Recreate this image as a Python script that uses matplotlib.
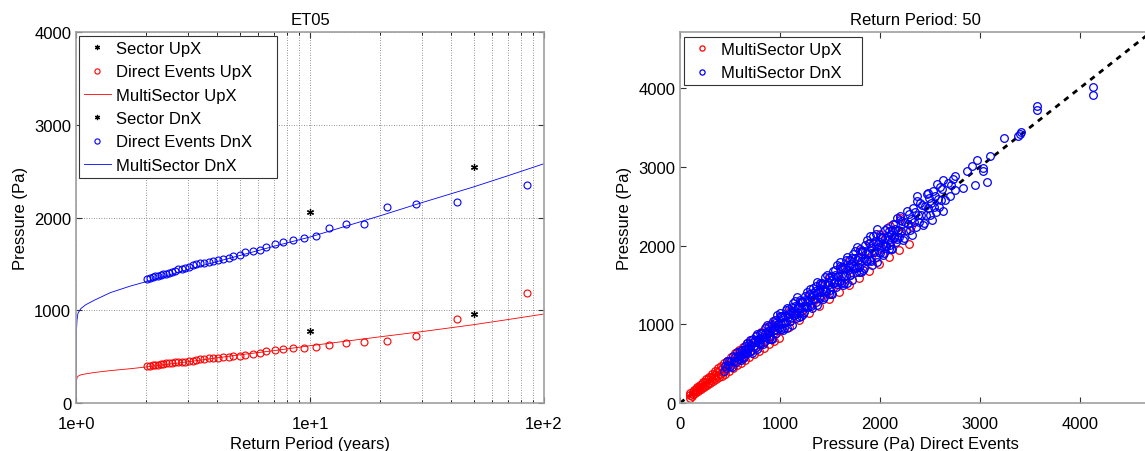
import matplotlib
matplotlib.use("Agg")
import matplotlib.pyplot as plt
from matplotlib.ticker import FixedLocator, FixedFormatter

plt.rcParams['font.family'] = ['Liberation Sans', 'DejaVu Sans']
plt.rcParams['font.size'] = 12

# ---- left panel: ET05 return period curves ----
sector_rp = [10, 50]
sector_up = [780, 960]
sector_dn = [2065, 2550]

event_rp = [85, 42.5, 28.3, 21.3, 17.0, 14.2, 12.1, 10.6, 9.4, 8.5, 7.7, 7.1, 6.5, 6.1,
            5.7, 5.3, 5.0, 4.7, 4.5, 4.25, 4.05, 3.86, 3.7, 3.54, 3.4, 3.27, 3.15, 3.04,
            2.93, 2.83, 2.74, 2.66, 2.58, 2.5, 2.43, 2.36, 2.3, 2.24, 2.18, 2.13, 2.07, 2.02]
event_up = [1185, 905, 725, 670, 655, 650, 625, 600, 595, 590, 580, 570, 560, 540,
            530, 520, 510, 505, 500, 495, 490, 488, 485, 478, 470, 462, 455, 450,
            445, 442, 440, 438, 435, 432, 430, 425, 420, 415, 410, 408, 405, 400]
event_dn = [2350, 2165, 2145, 2110, 1930, 1930, 1885, 1800, 1780, 1760, 1735, 1715, 1680, 1655,
            1640, 1625, 1600, 1585, 1565, 1555, 1540, 1530, 1520, 1515, 1510, 1500, 1490, 1470,
            1460, 1450, 1440, 1420, 1410, 1400, 1395, 1390, 1385, 1375, 1365, 1355, 1345, 1340]

fit_rp = [1.0, 1.003, 1.01, 1.02, 1.05, 1.1, 1.2, 1.4, 1.7, 2.0, 3.0, 5.0, 7.0, 10, 20, 30, 50, 70, 100]
fit_up = [0, 230, 275, 290, 305, 315, 330, 350, 370, 390, 445, 520, 565, 618, 715, 770, 845, 900, 960]
fit_dn = [0, 750, 900, 970, 1020, 1060, 1110, 1190, 1260, 1310, 1440, 1590, 1690, 1790, 2020, 2160, 2330, 2450, 2580]

# ---- right panel: (direct events, multisector) pressure pairs at 50 yr ----
up_pairs = [
    (96, 70), (104, 100), (98, 130),
    (124, 95), (134, 120), (127, 145), (136, 165),
    (154, 125), (164, 150), (157, 175), (166, 200),
    (184, 150), (194, 180), (187, 205), (196, 235),
    (214, 175), (224, 205), (217, 240), (226, 270),
    (244, 200), (254, 235), (247, 265), (256, 300),
    (274, 225), (284, 260), (277, 300), (286, 335),
    (304, 250), (314, 290), (307, 330), (316, 370),
    (334, 275), (344, 320), (337, 360), (346, 405),
    (364, 300), (374, 345), (367, 395), (376, 440),
    (394, 325), (404, 375), (397, 420), (406, 470),
    (424, 350), (434, 400), (427, 455), (436, 505),
    (454, 375), (464, 430), (457, 485), (466, 540),
    (494, 410), (504, 470), (497, 525), (506, 585),
    (534, 445), (544, 505), (537, 570), (546, 630),
    (574, 480), (584, 545), (577, 605), (586, 670),
    (614, 515), (624, 580), (617, 650), (626, 715),
    (654, 550), (664, 620), (657, 690), (666, 760),
    (694, 580), (704, 655), (697, 725), (706, 800),
    (744, 625), (754, 700), (747, 780), (756, 855),
    (794, 665), (804, 745), (797, 825), (806, 905),
    (844, 705), (854, 790), (847, 875), (856, 960),
    (894, 750), (904, 835), (897, 925), (906, 1010),
    (944, 790), (954, 880), (947, 970), (956, 1060),
    (994, 830), (1004, 925), (997, 1015), (1006, 1110),
    (1094, 970), (1106, 1080), (1100, 1175),
    (1194, 1060), (1206, 1175), (1200, 1285),
    (1294, 1145), (1306, 1270), (1300, 1390),
    (1394, 1235), (1406, 1370), (1400, 1495),
    (1494, 1320), (1506, 1470), (1500, 1600),
    (1594, 1410), (1606, 1565), (1600, 1710),
    (1694, 1500), (1706, 1665), (1700, 1815),
    (1794, 1585), (1806, 1760), (1800, 1925),
    (1894, 1675), (1906, 1860), (1900, 2030),
    (1994, 1760), (2006, 1960), (2000, 2140),
    (2094, 1850), (2106, 2060), (2100, 2245),
    (2194, 1940), (2206, 2155), (2200, 2350),
    (2294, 2025), (2306, 2250),
]
dn_pairs = [
    (440, 403), (450, 473), (460, 447), (470, 533), (480, 486), (490, 536), (500, 472), (510, 530),
    (520, 463), (530, 594), (540, 532), (550, 586), (560, 521), (570, 654), (580, 595), (590, 565),
    (600, 664), (610, 609), (620, 669), (630, 570), (640, 587), (650, 684), (660, 641), (670, 759),
    (680, 688), (690, 754), (700, 661), (710, 738), (720, 641), (730, 818), (740, 729), (750, 800),
    (760, 708), (770, 883), (780, 800), (790, 757), (800, 885), (810, 808), (820, 885), (830, 750),
    (840, 770), (850, 894), (860, 835), (870, 986), (880, 891), (890, 973), (900, 850), (910, 945),
    (920, 819), (930, 1042), (940, 926), (950, 1013), (960, 894), (970, 1113), (980, 1005), (990, 948),
    (1000, 1106), (1010, 1008), (1020, 1101), (1030, 931), (1040, 954), (1050, 1105), (1060, 1029),
    (1070, 1212), (1080, 1093), (1090, 1191), (1100, 1038), (1110, 1153), (1120, 997), (1130, 1266),
    (1140, 1123), (1150, 1226), (1160, 1080), (1170, 1342), (1180, 1210), (1190, 1140),
    (1200, 1303), (1210, 1208), (1220, 1298), (1230, 1133), (1240, 1156), (1250, 1303), (1260, 1230),
    (1270, 1407), (1280, 1292), (1290, 1387), (1300, 1240), (1310, 1351), (1320, 1201), (1330, 1459),
    (1340, 1323), (1350, 1422), (1360, 1282), (1370, 1533), (1380, 1408), (1390, 1341), (1400, 1520),
    (1410, 1407), (1420, 1511), (1430, 1317), (1440, 1342), (1450, 1511), (1460, 1425), (1470, 1629),
    (1480, 1493), (1490, 1602), (1500, 1431), (1510, 1557), (1520, 1383), (1530, 1678), (1540, 1520),
    (1550, 1632), (1560, 1471), (1570, 1757), (1580, 1612), (1590, 1534), (1600, 1738), (1610, 1607),
    (1620, 1724), (1630, 1501), (1640, 1528), (1650, 1719), (1660, 1620), (1670, 1850), (1680, 1695),
    (1690, 1817), (1700, 1622), (1710, 1763), (1720, 1565), (1730, 1898), (1740, 1717), (1750, 1843),
    (1760, 1660), (1770, 1981), (1780, 1816), (1790, 1727), (1800, 1955), (1810, 1806), (1820, 1936),
    (1830, 1685), (1840, 1715), (1850, 1928), (1860, 1815), (1870, 2072), (1880, 1897), (1890, 2032),
    (1900, 1813), (1910, 1969), (1920, 1747), (1930, 2117), (1940, 1915), (1950, 2053), (1960, 1848),
    (1970, 2204), (1980, 2020), (1990, 1920),
    (2000, 2112), (2010, 1986), (2020, 2099), (2030, 1885), (2040, 1911), (2050, 2095), (2060, 2000),
    (2070, 2221), (2080, 2073), (2090, 2189), (2100, 2003), (2110, 2138), (2120, 1950), (2130, 2267),
    (2140, 2097), (2150, 2215), (2160, 2042), (2170, 2347), (2180, 2191), (2190, 2108), (2200, 2323),
    (2210, 2183), (2220, 2307), (2230, 2071), (2240, 2099), (2250, 2300), (2260, 2194), (2270, 2436),
    (2280, 2272), (2290, 2399), (2300, 2194), (2310, 2341), (2320, 2134), (2330, 2480), (2340, 2293),
    (2350, 2421), (2360, 2231), (2370, 2563), (2380, 2392), (2390, 2300), (2400, 2534), (2410, 2381),
    (2420, 2514), (2430, 2256), (2440, 2286), (2450, 2504), (2460, 2389), (2470, 2650), (2480, 2471),
    (2490, 2608), (2500, 2385), (2510, 2544), (2520, 2318), (2530, 2693), (2540, 2489), (2550, 2627),
    (2560, 2420), (2570, 2779), (2580, 2593), (2590, 2493), (2600, 2746), (2610, 2579), (2620, 2722),
    (2630, 2442), (2650, 2580), (2680, 2790), (2700, 2630), (2730, 2850), (2750, 2700),
    (605, 547), (620, 669), (635, 634), (650, 719), (665, 637), (680, 697), (695, 797), (710, 661),
    (725, 773), (740, 729), (755, 846), (770, 685), (785, 816), (800, 755), (815, 891), (830, 840),
    (845, 957), (860, 835), (875, 921), (890, 816), (905, 818), (920, 993), (935, 933), (950, 1051),
    (965, 924), (980, 1005), (995, 1141), (1010, 940), (1025, 1093), (1040, 1024), (1055, 1182),
    (1070, 952), (1085, 1127), (1100, 1038), (1115, 1219), (1130, 1144), (1145, 1297), (1160, 1126),
    (1175, 1236), (1190, 1091), (1205, 1110), (1220, 1298), (1235, 1233), (1250, 1358), (1265, 1221),
    (1280, 1306), (1295, 1449), (1310, 1235), (1325, 1395), (1340, 1323), (1355, 1486), (1370, 1247),
    (1385, 1428), (1400, 1336), (1415, 1521), (1430, 1443), (1445, 1601), (1460, 1425), (1475, 1537),
    (1490, 1389), (1505, 1386), (1520, 1617), (1535, 1532), (1550, 1683), (1565, 1510), (1580, 1612),
    (1595, 1785), (1610, 1518), (1625, 1711), (1640, 1619), (1655, 1816), (1670, 1520), (1685, 1737),
    (1700, 1622), (1715, 1844), (1730, 1746), (1745, 1933), (1760, 1718), (1775, 1850), (1790, 1668),
    (1805, 1662), (1820, 1936), (1835, 1831), (1850, 2009), (1865, 1800), (1880, 1918), (1895, 2121),
    (1910, 1801), (1925, 2027), (1940, 1915), (1955, 2145), (1970, 1793), (1985, 2047), (2000, 1908),
    (2015, 2111), (2030, 2023), (2045, 2194), (2060, 2000), (2075, 2121), (2090, 1958), (2105, 1954),
    (2120, 2203), (2135, 2109), (2150, 2270), (2165, 2084), (2180, 2191), (2195, 2374),
    (2365, 2630), (2475, 2670), (2630, 2836), (2714, 2772), (2750, 2878),
    (2830, 2730), (2868, 2950), (2915, 3005), (2952, 2772), (2970, 3090),
    (3033, 2990), (3033, 2950), (3073, 2810), (3099, 3140), (3238, 3360),
    (3380, 3395), (3395, 3415), (3410, 3437), (3568, 3725), (3568, 3767),
    (4133, 3915), (4133, 4009),
]
up_direct = [p[0] for p in up_pairs]
up_multi = [p[1] for p in up_pairs]
dn_direct = [p[0] for p in dn_pairs]
dn_multi = [p[1] for p in dn_pairs]

fig = plt.figure(figsize=(11.45, 4.52), dpi=100)
ax1 = fig.add_axes([0.0664, 0.106, 0.4087, 0.821])
ax2 = fig.add_axes([0.5939, 0.106, 0.4114, 0.821])

leg_kw = dict(loc='upper left', mode='expand', fancybox=False, framealpha=1, edgecolor='#333333',
              handlelength=1.6, handletextpad=0.3, borderpad=0.3, labelspacing=0.5,
              borderaxespad=0, fontsize=12)

ax1.plot(sector_rp, sector_up, ls='none', marker=(6, 2, 0), color='black', ms=5, mew=0.9, label='Sector UpX')
ax1.plot(event_rp, event_up, 'o', mfc='none', mec='red', ms=5, mew=0.8, label='Direct Events UpX')
ax1.plot(fit_rp, fit_up, '-', color='red', lw=0.6, label='MultiSector UpX')
ax1.plot(sector_rp, sector_dn, ls='none', marker=(6, 2, 0), color='black', ms=5, mew=0.9, label='Sector DnX')
ax1.plot(event_rp, event_dn, 'o', mfc='none', mec='blue', ms=5, mew=0.8, label='Direct Events DnX')
ax1.plot(fit_rp, fit_dn, '-', color='blue', lw=0.6, label='MultiSector DnX')
ax1.set_xscale('log')
ax1.set_xlim(1, 100)
ax1.set_ylim(0, 4000)
ax1.xaxis.set_major_locator(FixedLocator([1, 10, 100]))
ax1.xaxis.set_major_formatter(FixedFormatter(['1e+0', '1e+1', '1e+2']))
ax1.set_yticks([0, 1000, 2000, 3000, 4000])
ax1.grid(True, which='both', axis='x', ls=(0, (1, 2)), color='#707070', lw=0.6)
ax1.grid(True, which='major', axis='y', ls=(0, (1, 2)), color='#707070', lw=0.6)
ax1.set_title('ET05', fontsize=12)
ax1.set_xlabel('Return Period (years)')
ax1.set_ylabel('Pressure (Pa)')
leg1 = ax1.legend(bbox_to_anchor=(0.0064, 0.0, 0.423, 0.989), markerscale=0.75, **leg_kw)
leg1.get_frame().set_linewidth(0.8)

ax2.plot([0, 4700], [0, 4700], '--', color='black', lw=2, dashes=(2, 2), zorder=1)
ax2.plot(up_direct, up_multi, 'o', mfc='none', mec='red', ms=5.5, mew=0.9, label='MultiSector UpX', zorder=2)
ax2.plot(dn_direct, dn_multi, 'o', mfc='none', mec='blue', ms=5.5, mew=0.9, label='MultiSector DnX', zorder=2)
ax2.set_xlim(0, 4710)
ax2.set_ylim(0, 4710)
ax2.set_xticks([0, 1000, 2000, 3000, 4000])
ax2.set_yticks([0, 1000, 2000, 3000, 4000])
ax2.set_title('Return Period: 50', fontsize=12)
ax2.set_xlabel('Pressure (Pa) Direct Events')
ax2.set_ylabel('Pressure (Pa)')
leg2 = ax2.legend(bbox_to_anchor=(0.0085, 0.0, 0.378, 0.9865), markerscale=0.68, **leg_kw)
leg2.get_frame().set_linewidth(0.8)

for ax in (ax1, ax2):
    for s in ax.spines.values():
        s.set_color('#a0a0a0')
        s.set_linewidth(1.2)
    ax.tick_params(direction='in', top=True, right=True, length=4, color='#333333', labelsize=12)
    ax.tick_params(axis='x', pad=9)
    ax.tick_params(which='minor', direction='in', top=True, right=True, length=2)

fig.savefig('out.png', dpi=100)
